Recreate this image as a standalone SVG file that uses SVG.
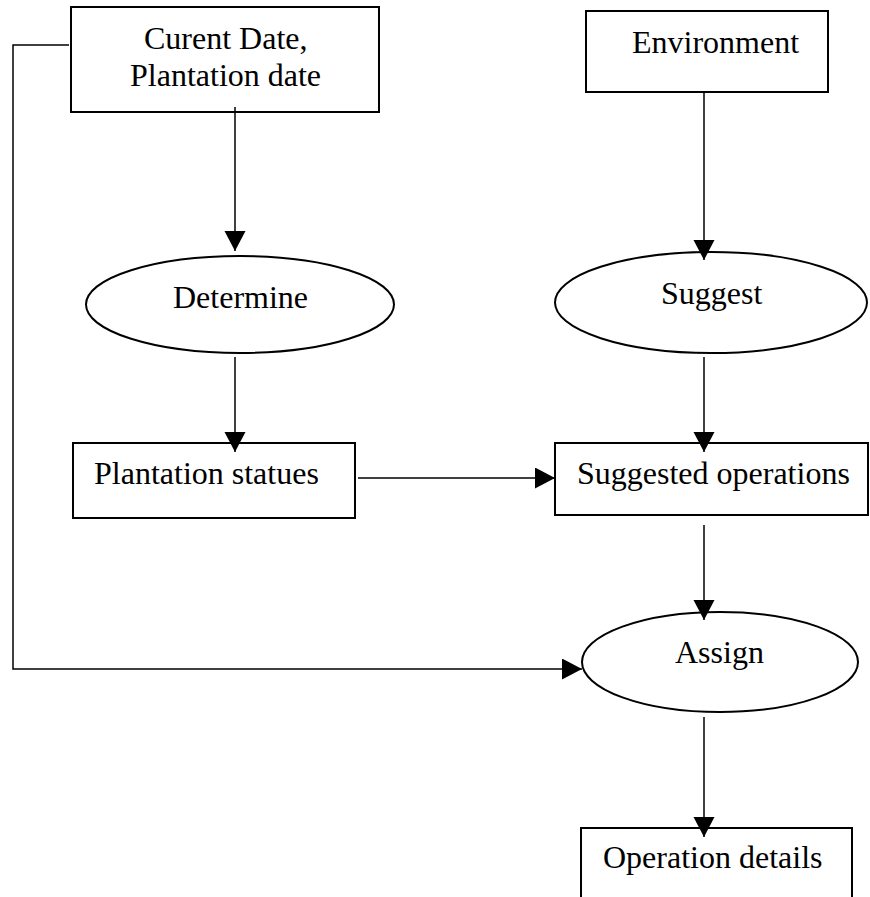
<svg xmlns="http://www.w3.org/2000/svg" width="870" height="897" viewBox="0 0 870 897">
<style>
.box{fill:#fff;stroke:#000;stroke-width:2}
.proc{fill:#fff;stroke:#000;stroke-width:2}
.lbl{font-family:"Liberation Serif","Times New Roman",serif;font-size:32px;fill:#000}
.conn{fill:none;stroke:#000;stroke-width:1.5}
</style>
<defs>
<marker id="arr" markerUnits="userSpaceOnUse" markerWidth="22" markerHeight="22" refX="20" refY="10.5" orient="auto" viewBox="0 0 22 22">
<path d="M0,0 L20,10.5 L0,21 Z" fill="#000"/>
</marker>
</defs>
<rect width="870" height="897" fill="#fff"/>
<g id="node-current-date">
<rect class="box" x="71" y="7" width="308" height="105"/>
<text class="lbl" x="144" y="49">Curent Date,</text>
<text class="lbl" x="130" y="86">Plantation date</text>
</g>
<g id="node-environment">
<rect class="box" x="586" y="11" width="242" height="81"/>
<text class="lbl" x="632" y="53">Environment</text>
</g>
<g id="node-determine">
<ellipse class="proc" cx="240" cy="304.5" rx="154" ry="48.5"/>
<text class="lbl" x="173" y="308">Determine</text>
</g>
<g id="node-suggest">
<ellipse class="proc" cx="711" cy="302.5" rx="156" ry="50.5"/>
<text class="lbl" x="661" y="304">Suggest</text>
</g>
<g id="node-plantation-statues">
<rect class="box" x="73" y="443" width="282" height="75"/>
<text class="lbl" x="94" y="484">Plantation statues</text>
</g>
<g id="node-suggested-operations">
<rect class="box" x="555" y="443" width="313" height="72"/>
<text class="lbl" x="577" y="484">Suggested operations</text>
</g>
<g id="node-assign">
<ellipse class="proc" cx="720" cy="662" rx="138" ry="50"/>
<text class="lbl" x="675" y="663">Assign</text>
</g>
<g id="node-operation-details">
<rect class="box" x="581" y="828" width="271" height="80"/>
<text class="lbl" x="603" y="868">Operation details</text>
</g>
<g id="connectors">
<path class="conn" d="M235,107 V251" marker-end="url(#arr)"/>
<path class="conn" d="M235,357 V452" marker-end="url(#arr)"/>
<path class="conn" d="M704,92 V260" marker-end="url(#arr)"/>
<path class="conn" d="M704,357 V452" marker-end="url(#arr)"/>
<path class="conn" d="M358,478 H555" marker-end="url(#arr)"/>
<path class="conn" d="M704,525 V620" marker-end="url(#arr)"/>
<path class="conn" d="M704,717 V837" marker-end="url(#arr)"/>
<path class="conn" d="M69,45 H13 V669 H582" marker-end="url(#arr)"/>
</g>
</svg>
